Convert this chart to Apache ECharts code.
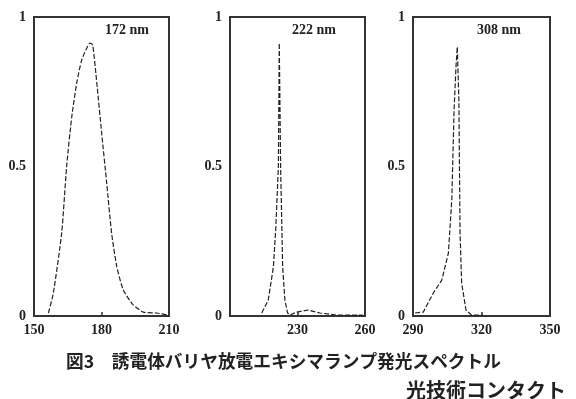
<!DOCTYPE html>
<html>
<head>
<meta charset="utf-8">
<script src="https://cdn.jsdelivr.net/npm/echarts@6/dist/echarts.min.js"></script>
<style>
  html, body { margin: 0; padding: 0; background: #fff; }
  #chart { width: 576px; height: 399px; }
</style>
</head>
<body>
<div id="chart"></div>
<script>
  // spectra: [wavelength nm, relative intensity]
  const spectrum172 = [
    [156.4, 0.01], [158.6, 0.077], [162.3, 0.277], [164.5, 0.5], [166.8, 0.667],
    [169.0, 0.78], [171.2, 0.856], [173.7, 0.9], [174.9, 0.913], [176.1, 0.906],
    [177.9, 0.78], [180.1, 0.61], [182.3, 0.445], [184.5, 0.277], [186.8, 0.165],
    [189.7, 0.087], [194.1, 0.037], [198.6, 0.013], [204.5, 0.01], [209.6, 0.003],
  ];
  const spectrum222 = [
    [214.1, 0.01], [217.0, 0.053], [219.3, 0.165], [220.4, 0.3], [221.5, 0.5],
    [221.9, 0.913], [222.5, 0.5], [223.4, 0.165], [224.4, 0.053], [225.6, 0.01],
    [226.7, 0.003], [229.6, 0.013], [234.8, 0.02], [240.0, 0.01], [247.4, 0.003],
    [259.0, 0.003],
  ];
  const spectrum308 = [
    [290.9, 0.01], [294.5, 0.013], [298.9, 0.077], [302.6, 0.12], [305.5, 0.21],
    [307.0, 0.39], [308.0, 0.69], [308.8, 0.83], [309.4, 0.9], [310.1, 0.72],
    [310.6, 0.28], [311.3, 0.11], [313.2, 0.02], [315.7, 0.003], [320.7, 0.003],
  ];

  const xRanges = [[150, 210], [200, 260], [290, 350]];
  const hiddenXLabels = [200];
  const peakLabels = ["172 nm", "222 nm", "308 nm"];
  const captionText = "図3　誘電体バリヤ放電エキシマランプ発光スペクトル";
  const sourceText = "光技術コンタクト";

  const chart = echarts.init(document.getElementById("chart"));
  const labelFont = "'Liberation Serif', 'DejaVu Serif', serif";
  const gridBoxes = [
    { left: 34, top: 17, width: 135, height: 299 },
    { left: 230, top: 17, width: 135, height: 299 },
    { left: 413, top: 17, width: 137, height: 299 },
  ];
  const spectra = [spectrum172, spectrum222, spectrum308];

  const option = {
    animation: false,
    backgroundColor: "#fff",
    title: [
      {
        text: captionText,
        left: 61,
        top: 347,
        textStyle: { fontFamily: "'Noto Sans CJK JP'", fontSize: 17.7, fontWeight: "bold", color: "#222" },
      },
      {
        text: sourceText,
        left: 401,
        top: 375,
        textStyle: { fontFamily: "'Noto Sans CJK JP'", fontSize: 20, fontWeight: "bold", color: "#222" },
      },
    ],
    grid: gridBoxes.map((box) => ({
      ...box,
      show: true,
      borderColor: "#333",
      borderWidth: 2,
      backgroundColor: "transparent",
    })),
    xAxis: xRanges.map((range, i) => ({
      type: "value",
      gridIndex: i,
      min: range[0],
      max: range[1],
      interval: 30,
      axisLine: { show: false },
      axisTick: { show: true, inside: true, length: 4, lineStyle: { color: "#333", width: 1.5 } },
      splitLine: { show: false },
      axisLabel: {
        margin: 7,
        color: "#222",
        fontFamily: labelFont,
        fontSize: 14,
        fontWeight: "bold",
        formatter: (v) => (hiddenXLabels.includes(v) ? "" : String(v)),
      },
    })),
    yAxis: xRanges.map((_, i) => ({
      type: "value",
      gridIndex: i,
      min: 0,
      max: 1,
      interval: 0.5,
      axisLine: { show: false },
      axisTick: { show: false },
      splitLine: { show: false },
      axisLabel: {
        margin: 8,
        color: "#222",
        fontFamily: labelFont,
        fontSize: 14,
        fontWeight: "bold",
        formatter: (v) => String(v),
      },
    })),
    graphic: peakLabels.map((text, i) => ({
      type: "text",
      left: gridBoxes[i].left + [71, 62, 64][i],
      top: 23,
      style: {
        text,
        fill: "#222",
        font: "bold 14px " + labelFont,
      },
    })),
    series: spectra.map((data, i) => ({
      type: "line",
      xAxisIndex: i,
      yAxisIndex: i,
      data,
      symbol: "none",
      smooth: i === 0 ? 0.2 : false,
      lineStyle: { color: "#222", width: 1.2, type: [5, 2] },
    })),
  };

  chart.setOption(option);
</script>
</body>
</html>
